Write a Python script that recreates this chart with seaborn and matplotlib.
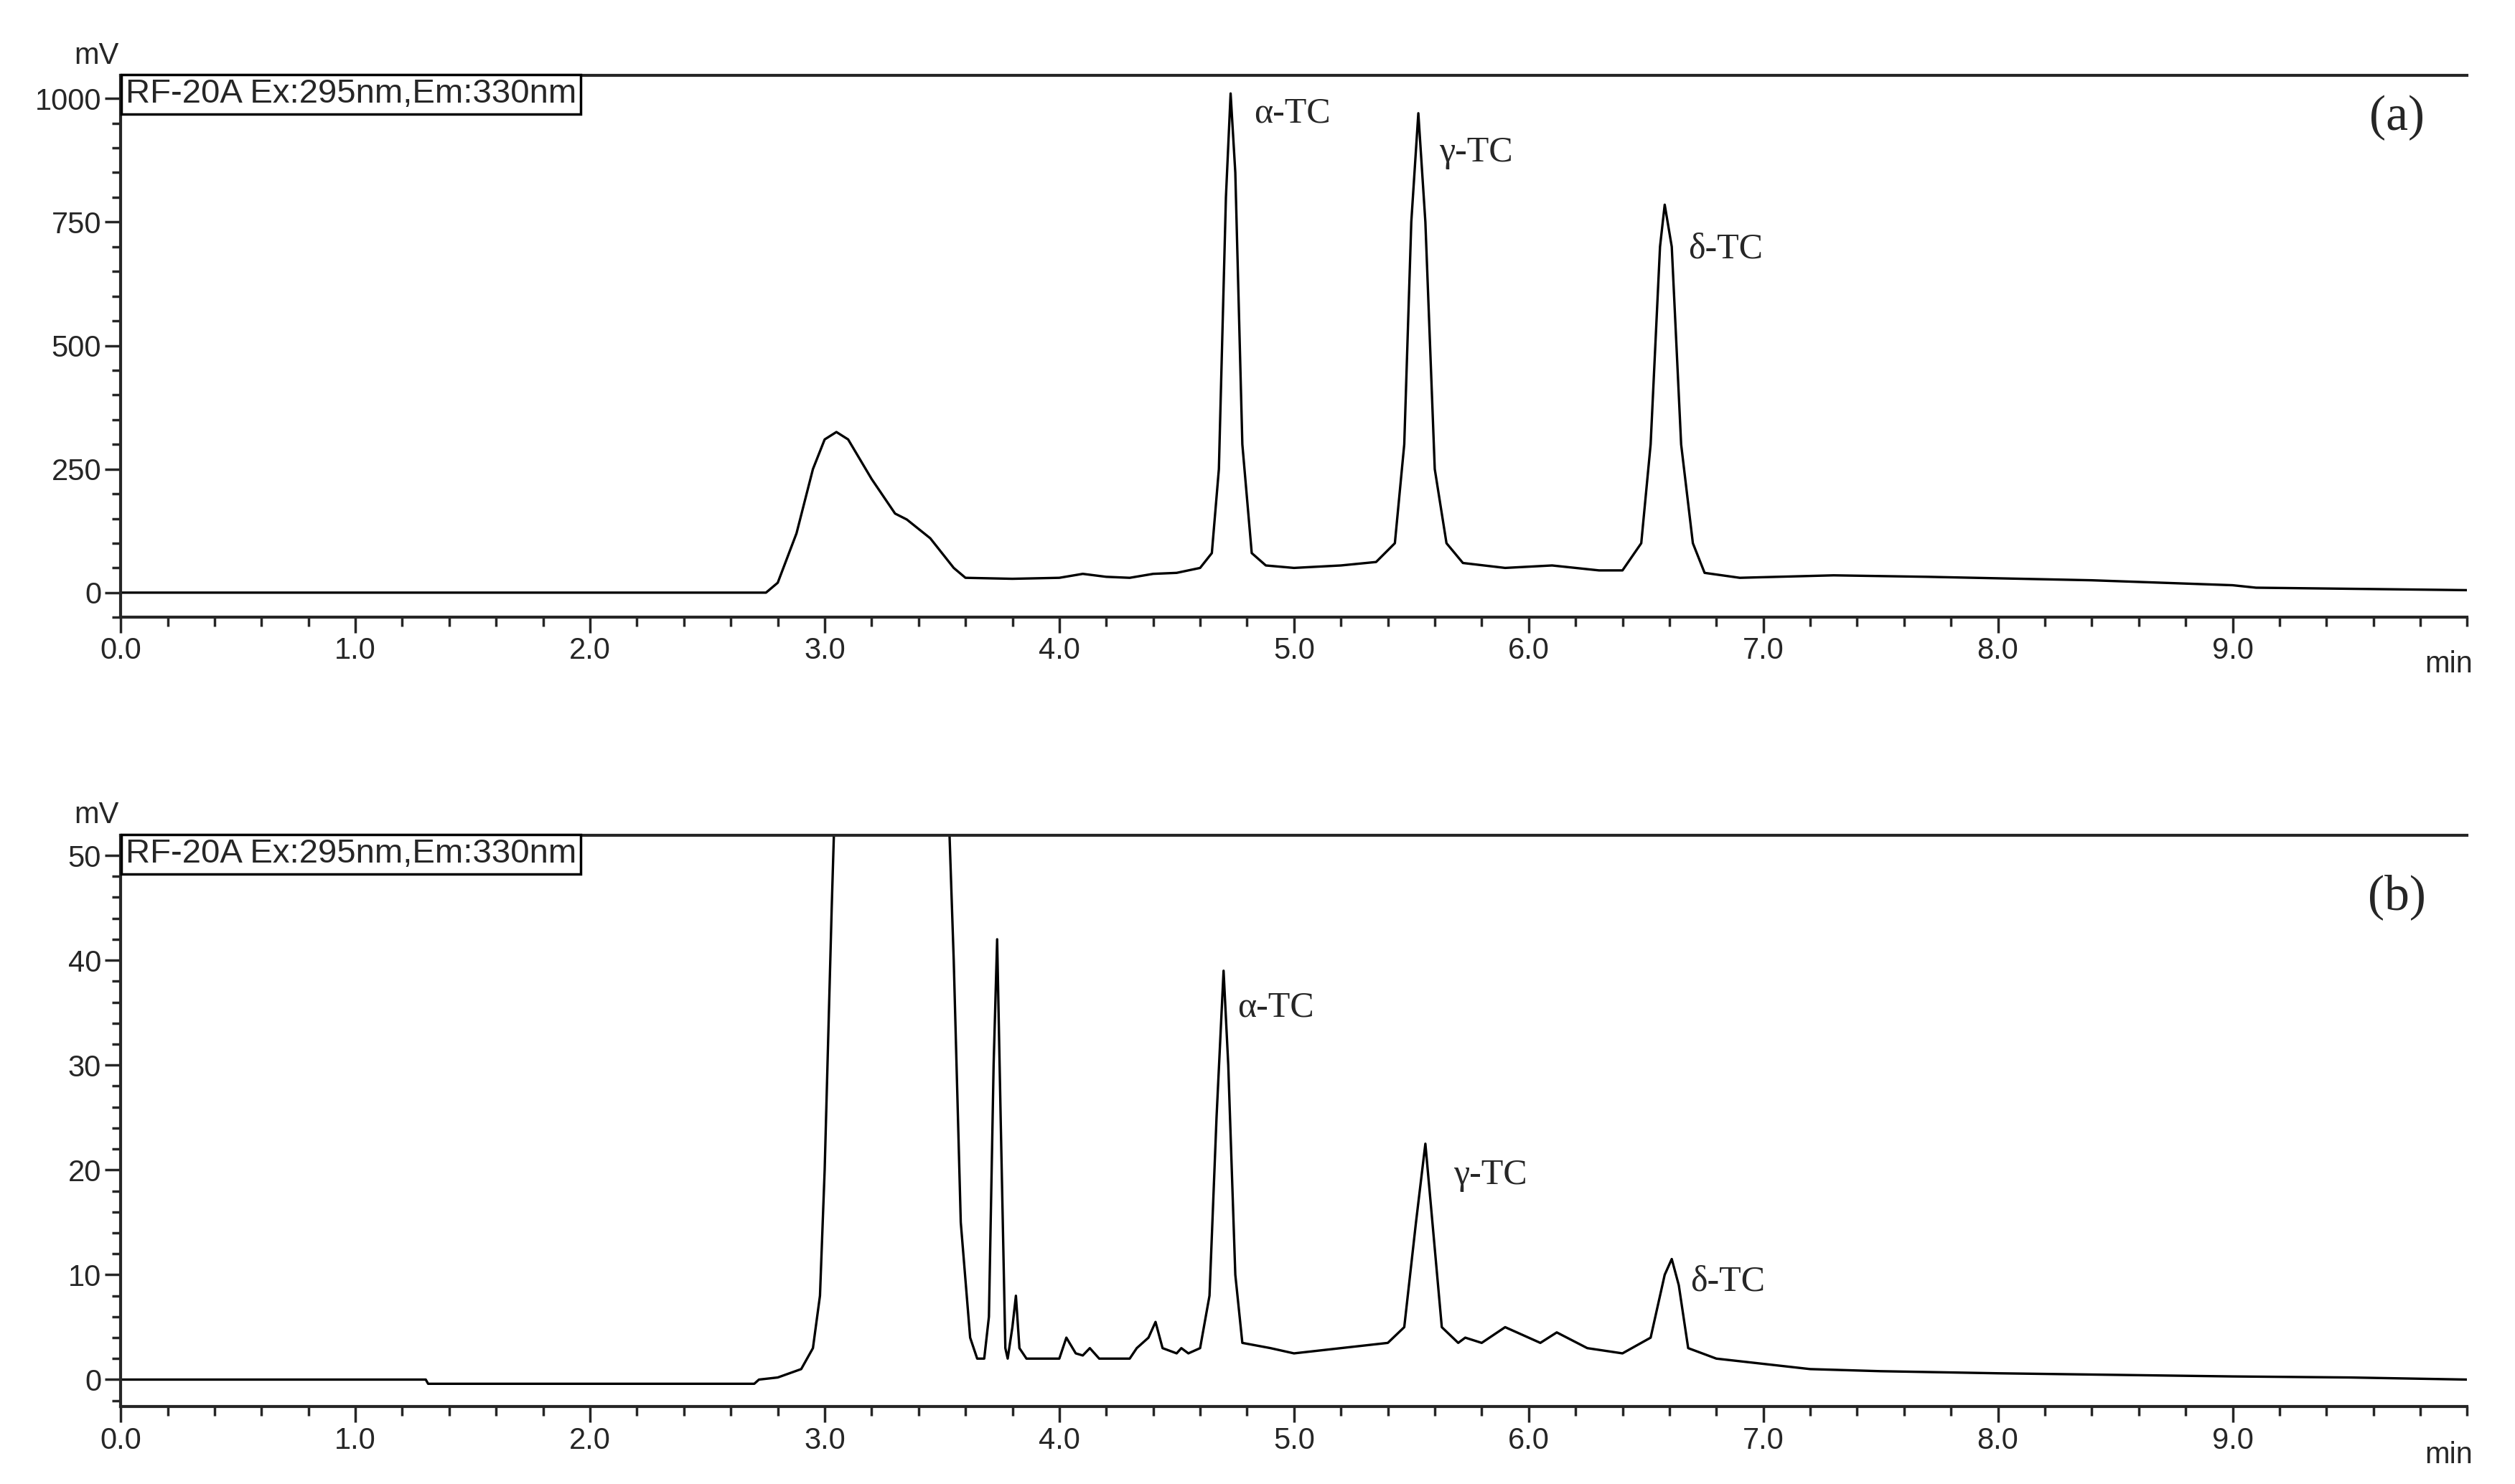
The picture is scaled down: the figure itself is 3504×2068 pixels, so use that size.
import numpy as np
import pandas as pd
import matplotlib
matplotlib.use("Agg")
import matplotlib.pyplot as plt
import seaborn as sns
from matplotlib.ticker import MultipleLocator

# chromatogram (a): retention time (min) / signal (mV)
time_a = [0.0, 2.75, 2.8, 2.88, 2.95, 3.0, 3.05, 3.1, 3.2, 3.3, 3.35, 3.45, 3.55, 3.6, 3.8, 4.0,
          4.1, 4.2, 4.3, 4.4, 4.5, 4.6, 4.65, 4.68, 4.71, 4.73, 4.75, 4.78, 4.82, 4.88, 5.0, 5.2,
          5.35, 5.43, 5.47, 5.5, 5.53, 5.56, 5.6, 5.65, 5.72, 5.9, 6.1, 6.3, 6.4, 6.48, 6.52, 6.56,
          6.58, 6.61, 6.65, 6.7, 6.75, 6.9, 7.3, 7.7, 8.4, 9.0, 9.1, 10.0]
signal_a = [0, 0, 20, 120, 250, 310, 325, 310, 230, 160, 148, 110, 50, 30, 28, 30,
            38, 32, 30, 38, 40, 50, 80, 250, 800, 1010, 850, 300, 80, 55, 50, 55,
            62, 100, 300, 750, 970, 750, 250, 100, 60, 50, 55, 45, 45, 100, 300, 700,
            785, 700, 300, 100, 40, 30, 35, 32, 25, 15, 10, 5]

# chromatogram (b)
time_b = [0.0, 1.3, 1.31, 2.7, 2.72, 2.8, 2.9, 2.95, 2.98, 3.0, 3.03, 3.05, 3.52, 3.55, 3.58, 3.62,
          3.65, 3.68, 3.7, 3.72, 3.735, 3.75, 3.77, 3.78, 3.8, 3.815, 3.83, 3.86, 4.0, 4.03, 4.07,
          4.1, 4.13, 4.17, 4.3, 4.33, 4.38, 4.41, 4.44, 4.5, 4.52, 4.55, 4.6, 4.64, 4.67, 4.7,
          4.72, 4.75, 4.78, 4.9, 5.0, 5.2, 5.4, 5.47, 5.52, 5.56, 5.59, 5.63, 5.7, 5.73, 5.8,
          5.9, 5.95, 6.05, 6.12, 6.25, 6.4, 6.52, 6.58, 6.61, 6.64, 6.68, 6.8, 7.0, 7.2, 7.5,
          8.0, 9.0, 9.5, 10.0]
signal_b = [0, 0, -0.4, -0.4, 0, 0.2, 1, 3, 8, 20, 45, 60, 60, 40, 15, 4,
            2, 2, 6, 30, 42, 25, 3, 2, 5, 8, 3, 2, 2, 4, 2.5,
            2.3, 3, 2, 2, 3, 4, 5.5, 3, 2.5, 3, 2.5, 3, 8, 25, 39,
            30, 10, 3.5, 3, 2.5, 3, 3.5, 5, 15, 22.5, 15, 5, 3.5, 4, 3.5,
            5, 4.5, 3.5, 4.5, 3, 2.5, 4, 10, 11.5, 9, 3, 2, 1.5, 1, 0.8,
            0.6, 0.3, 0.2, 0]

peak_names = ["\u03b1-TC", "\u03b3-TC", "\u03b4-TC"]
label_pos_a = [(4.83, 970), (5.62, 890), (6.68, 695)]
label_pos_b = [(4.76, 35.5), (5.68, 19.5), (6.69, 9.3)]
header = "RF-20A Ex:295nm,Em:330nm"

sns.set_style("ticks")
plt.rcParams["font.family"] = ["Liberation Sans Narrow", "Liberation Sans", "DejaVu Sans"]

fig = plt.figure(figsize=(35.04, 20.68), dpi=100)
ax_a = fig.add_axes([0.048, 0.584, 0.933, 0.365])
ax_b = fig.add_axes([0.048, 0.052, 0.933, 0.385])

panels = [
    (ax_a, time_a, signal_a, (-50, 1046), 250, 50, label_pos_a, "(a)", 960),
    (ax_b, time_b, signal_b, (-2.6, 51.9), 10, 2, label_pos_b, "(b)", 46),
]

for ax, t, s, ylim, ymaj, ymin, lpos, tag, tag_y in panels:
    df = pd.DataFrame({"t": t, "s": s})
    sns.lineplot(data=df, x="t", y="s", ax=ax, color="black", linewidth=2.4, sort=False)
    ax.set_xlim(0, 10.0)
    ax.set_ylim(*ylim)
    ax.set_xlabel("")
    ax.set_ylabel("")
    ax.xaxis.set_minor_locator(MultipleLocator(0.2))
    ax.yaxis.set_major_locator(MultipleLocator(ymaj))
    ax.yaxis.set_minor_locator(MultipleLocator(ymin))
    ticks = np.arange(0, 10, 1.0)
    ax.set_xticks(ticks)
    ax.set_xticklabels([f"{v:.1f}" for v in ticks])
    ax.tick_params(axis="both", which="major", length=16, width=2.5, labelsize=30, direction="out")
    ax.tick_params(axis="both", which="minor", length=9, width=2.5, direction="out")
    for side in ["left", "bottom", "top"]:
        ax.spines[side].set_linewidth(3)
    ax.spines["right"].set_visible(False)
    ax.text(9.92, ylim[0] - (ylim[1] - ylim[0]) * 0.06, "min", fontsize=30, ha="center", va="top")
    ax.text(-0.02, 1.01, "mV", transform=ax.transAxes, fontsize=30, ha="left", va="bottom")
    ax.text(0.002, 0.995, header, transform=ax.transAxes, fontsize=34, ha="left", va="top",
            bbox=dict(boxstyle="square,pad=0.12", fc="white", ec="black", lw=2.5))
    for name, (x, y) in zip(peak_names, lpos):
        ax.text(x, y, name, fontsize=36, family="Liberation Serif", ha="left", va="center")
    ax.text(9.7, tag_y, tag, fontsize=50, family="Liberation Serif", ha="center", va="center")

fig.savefig("out.png", dpi=100)
